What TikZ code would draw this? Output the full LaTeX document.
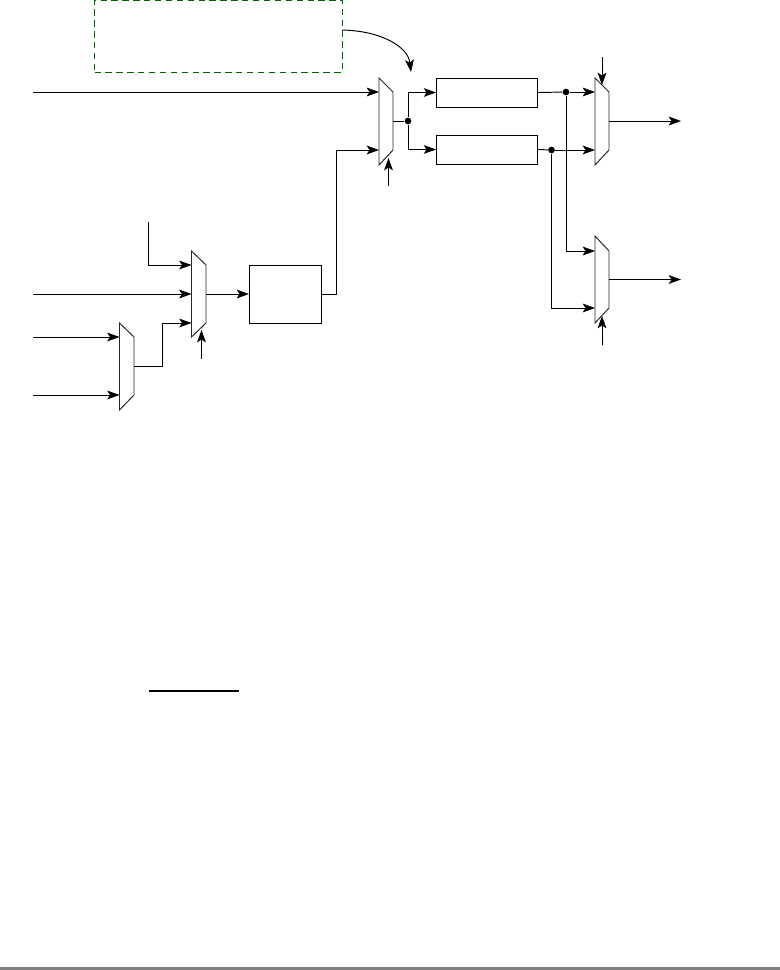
\documentclass[tikz,border=0pt]{standalone}
\usepackage{amsmath}
\usetikzlibrary{arrows.meta}
\definecolor{notegreen}{RGB}{0,100,0}
\tikzset{
  sig/.style={line width=0.55pt,-{Stealth[length=7pt,width=5pt,inset=1.6pt]}},
  wire/.style={line width=0.55pt},
  muxline/.style={line width=0.55pt,draw=black!85},
  blockbox/.style={draw,line width=0.55pt,minimum width=#1,inner sep=0pt},
  jdot/.style={circle,fill=black,inner sep=0pt,minimum size=3.8pt},
}
\begin{document}
\begin{tikzpicture}[x=0.02cm,y=-0.02cm]
\useasboundingbox (0,0) rectangle (780,970);
% dashed box at the top
\node[draw=notegreen,line width=0.55pt,dash pattern=on 3.6pt off 2.6pt,minimum width=4.96cm,minimum height=1.44cm,inner sep=0pt] (note) at (218.5,36) {};
\coordinate (noteout) at (342.5,30);
\coordinate (notetip) at (411,72);
% blocks
\node[blockbox=2.02cm,minimum height=0.58cm] (regA) at (487,92.5) {};
\node[blockbox=2.02cm,minimum height=0.58cm] (regB) at (487,149.5) {};
\node[blockbox=1.44cm,minimum height=1.16cm] (alu) at (285.5,294) {};
% muxes
\draw[muxline] (379,78) -- (393,92) -- (393,150) -- (379,165) -- cycle;
\draw[muxline] (595,78) -- (609,92) -- (609,150) -- (595,165) -- cycle;
\draw[muxline] (595,236) -- (609,251) -- (609,308) -- (595,323) -- cycle;
\draw[muxline] (191.5,251) -- (206,265) -- (206,323) -- (191.5,337) -- cycle;
\draw[muxline] (119.5,323) -- (134,337) -- (134,395) -- (119.5,410) -- cycle;
% mux ports
\coordinate (mAa) at (379,92);
\coordinate (mAb) at (379,150);
\coordinate (mAo) at (393,121);
\coordinate (mAs) at (388.5,158);
\coordinate (mBa) at (595,92);
\coordinate (mBb) at (595,150);
\coordinate (mBo) at (609,121);
\coordinate (mBs) at (602,85);
\coordinate (mCa) at (595,251);
\coordinate (mCb) at (595,308);
\coordinate (mCo) at (609,279.5);
\coordinate (mCs) at (602,316);
\coordinate (mDa) at (191.5,265);
\coordinate (mDb) at (191.5,294);
\coordinate (mDc) at (191.5,323);
\coordinate (mDo) at (206,294);
\coordinate (mDs) at (201.5,330);
\coordinate (mEa) at (119.5,337);
\coordinate (mEb) at (119.5,395);
\coordinate (mEo) at (134,366);
% free ends
\coordinate (inA) at (33,92);
\coordinate (inB) at (148,222);
\coordinate (inC) at (33,294);
\coordinate (inD) at (33,337);
\coordinate (inE) at (33,395);
\coordinate (selA) at (388.5,186);
\coordinate (selB) at (602,57);
\coordinate (selC) at (602,345);
\coordinate (selD) at (201.5,359);
\coordinate (outB) at (681,121);
\coordinate (outC) at (681,279.5);
% junctions
\node[jdot] (jA) at (408,121) {};
\node[jdot] (jB) at (566,92) {};
\node[jdot] (jC) at (551.5,150) {};
% signals
\draw[sig] (noteout) .. controls (382,31) and (408,47) .. (notetip);
\draw[sig] (inA) -- (mAa);
\draw[sig] (alu.east) -| (336,150) -- (mAb);
\draw[wire] (mAo) -- (jA);
\draw[sig] (jA) |- (regA.west);
\draw[sig] (jA) |- (regB.west);
\draw[wire] (regA.east) -- (jB);
\draw[wire] (regB.east) -- (jC);
\draw[sig] (jB) -- (mBa);
\draw[sig] (jC) -- (mBb);
\draw[sig] (jB) |- (mCa);
\draw[sig] (jC) |- (mCb);
\draw[sig] (mBo) -- (outB);
\draw[sig] (mCo) -- (outC);
\draw[sig] (selA) -- (mAs);
\draw[sig] (selB) -- (mBs);
\draw[sig] (selC) -- (mCs);
\draw[sig] (selD) -- (mDs);
\draw[sig] (inB) |- (mDa);
\draw[sig] (inC) -- (mDb);
\draw[sig] (mEo) -| (162.5,323) -- (mDc);
\draw[sig] (mDo) -- (alu.west);
\draw[sig] (inD) -- (mEa);
\draw[sig] (inE) -- (mEb);
% stray rule and bottom bar
\draw[line width=0.75pt] (149,691) -- (239,691);
\fill[black!50] (0,967) rectangle (780,970);
\end{tikzpicture}
\end{document}
